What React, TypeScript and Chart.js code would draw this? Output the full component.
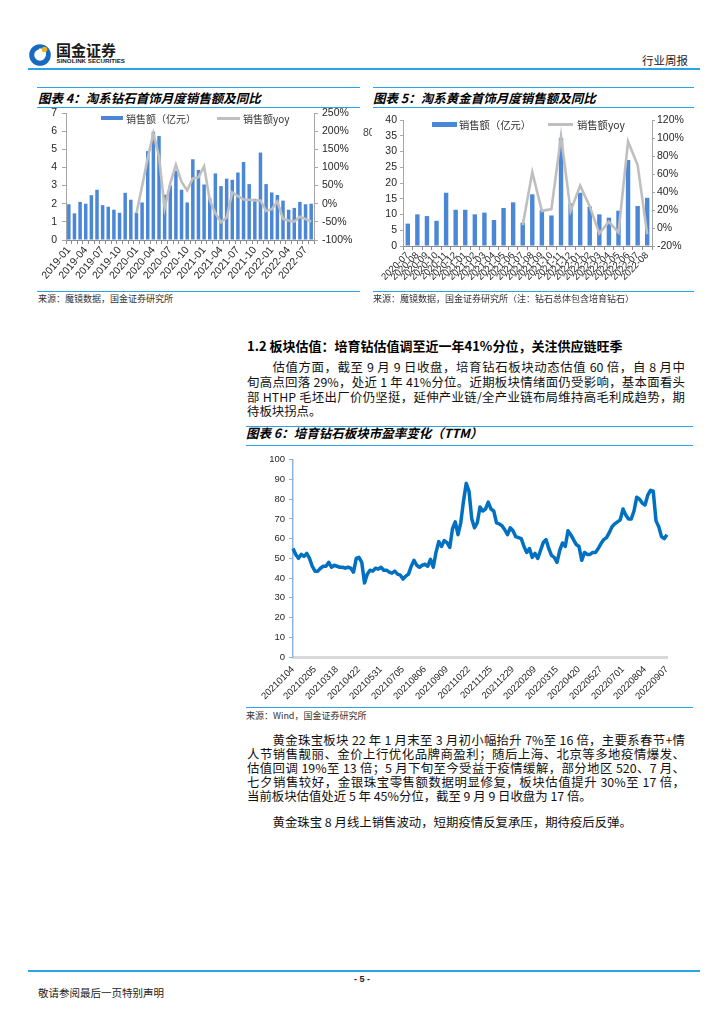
import React, { useEffect, useRef } from 'react';
import { Chart, registerables } from 'chart.js';

Chart.register(...registerables);

// ---------- Data: chart 4 (diamond jewellery, Taobao) ----------
const diamondMonths = [
  '2019-01', '2019-02', '2019-03', '2019-04', '2019-05', '2019-06', '2019-07', '2019-08', '2019-09', '2019-10', '2019-11', '2019-12',
  '2020-01', '2020-02', '2020-03', '2020-04', '2020-05', '2020-06', '2020-07', '2020-08', '2020-09', '2020-10', '2020-11', '2020-12',
  '2021-01', '2021-02', '2021-03', '2021-04', '2021-05', '2021-06', '2021-07', '2021-08', '2021-09', '2021-10', '2021-11', '2021-12',
  '2022-01', '2022-02', '2022-03', '2022-04', '2022-05', '2022-06', '2022-07', '2022-08',
];
const diamondSales = [
  1.97, 1.47, 2.1, 2.0, 2.47, 2.77, 1.92, 1.83, 1.67, 1.5, 2.6, 2.22,
  1.5, 2.07, 4.9, 5.97, 5.73, 2.5, 3.0, 3.82, 2.77, 2.07, 4.45, 3.86,
  3.06, 2.3, 3.67, 2.97, 3.38, 3.32, 3.72, 4.3, 3.08, 2.27, 4.82, 3.08,
  2.62, 2.48, 2.17, 1.67, 1.77, 2.1, 1.97, 2.0,
];
const diamondYoy = [
  null, null, null, null, null, null, null, null, null, null, null, null,
  -26, 48, 126, 194, 130, -12, 56, 107, 60, 37, 70, 73,
  103, 10, -26, -51, -38, 31, 21, 12, 11, 9, 9, -20,
  -15, 6, -42, -46, -49, -36, -42, -49,
];

// ---------- Data: chart 5 (gold jewellery, Taobao) ----------
const goldMonths = [
  '2020-07', '2020-08', '2020-09', '2020-10', '2020-11', '2020-12',
  '2021-01', '2021-02', '2021-03', '2021-04', '2021-05', '2021-06', '2021-07', '2021-08', '2021-09', '2021-10', '2021-11', '2021-12',
  '2022-01', '2022-02', '2022-03', '2022-04', '2022-05', '2022-06', '2022-07', '2022-08',
];
const goldSales = [
  7.1, 10.05, 9.5, 8.0, 16.9, 11.5,
  11.5, 10.05, 10.6, 8.25, 12.06, 13.86, 7.4, 16.4, 11.4, 9.7, 34.3, 13.5,
  16.9, 12.5, 10.05, 9.0, 11.2, 27.3, 12.7, 15.3,
];
const goldYoy = [
  null, null, null, null, null, null,
  null, null, null, null, null, null, 3, 62, 19, 21, 102, 19,
  47, 24, -6, 7, -5, 96, 70, -7,
];

// ---------- Data: chart 6 (lab-grown diamond sector PE TTM) ----------
const peTickDates = [
  '20210104', '20210205', '20210318', '20210422', '20210531', '20210705', '20210806', '20210909', '20211022',
  '20211125', '20211229', '20220209', '20220315', '20220420', '20220527', '20220701', '20220804', '20220907',
];
// sampled every 3 trading days, 8 samples between labelled dates
const peValues = [
  55, 52, 50, 52, 51, 52.5, 50, 46,
  43.5, 43.5, 45, 46, 46, 48, 45.5, 46.5,
  46, 45.5, 45.5, 45, 45.5, 45, 43, 50,
  50.5, 48, 37.5, 42, 44, 43.5, 45, 44.5,
  45.5, 44, 44, 43, 42.5, 43.5, 42, 41.5,
  39.5, 41, 42, 46, 49, 46.5, 45.5, 46.5,
  47, 46, 49.5, 45.5, 53, 58.5, 56, 59,
  58, 55.5, 65, 68.5, 62, 68, 79, 88,
  84, 70, 65.5, 68, 76, 74, 75, 78.5,
  75, 74, 68, 67.5, 66.5, 64.5, 62, 65.5,
  64, 61, 60.5, 60, 56, 53, 55, 50.5,
  52.5, 50, 54, 58, 59.5, 55, 51.5, 50.5,
  48, 54, 57.8, 56, 64, 62, 59.5, 57,
  56, 49, 53, 52, 52, 53, 53, 55,
  57.5, 59.5, 60.5, 63, 66, 67.5, 68.5, 69.5,
  75, 72, 70, 70, 74, 81, 80, 78,
  77, 82, 84.5, 84, 69, 66, 61, 60,
  62,
];
const peLabels = peValues.map((_, i) => (i % 8 === 0 ? peTickDates[i / 8] : ''));

// ---------- Styles ----------
const RULE = '#2aa4e6';
const BAR_BLUE = '#4a87d6';
const YOY_GREY = '#bfbfbf';
const PE_BLUE = '#0070c0';
const TICK = '#262626';
const NUM_FONT = '"Liberation Sans", Arial, sans-serif';
const CJK = '"Noto Sans CJK SC", "Noto Sans", sans-serif';

function diamondConfig(): any {
  return {
    type: 'bar',
    data: {
      labels: diamondMonths,
      datasets: [
        { type: 'line', label: '销售额yoy', data: diamondYoy, yAxisID: 'y1', borderColor: YOY_GREY, borderWidth: 2.6, pointRadius: 0, tension: 0, order: 0 },
        { type: 'bar', label: '销售额（亿元）', data: diamondSales, yAxisID: 'y', backgroundColor: BAR_BLUE, barPercentage: 0.62, categoryPercentage: 1, order: 1 },
      ],
    },
    options: {
      responsive: false,
      animation: false,
      events: [],
      layout: { padding: { top: 13, right: 0, bottom: 0, left: 0 } },
      plugins: { legend: { display: false }, tooltip: { enabled: false }, title: { display: false } },
      scales: {
        x: {
          offset: true,
          grid: { display: true, drawOnChartArea: false, drawTicks: true, tickLength: 4, color: '#8c8c8c', offset: true },
          border: { display: true, color: '#8c8c8c', width: 1 },
          ticks: {
            autoSkip: false, minRotation: 50, maxRotation: 50, padding: 0, color: TICK,
            font: { family: NUM_FONT, size: 10.5 },
            callback: (_v: any, i: number) => (i % 3 === 0 ? diamondMonths[i] : ''),
          },
          afterFit: (s: any) => { s.height = 50; },
        },
        y: {
          position: 'left', min: 0, max: 7,
          grid: { drawOnChartArea: false, tickLength: 4, color: '#a6a6a6' },
          border: { color: '#a6a6a6' },
          ticks: { stepSize: 1, padding: 5, color: TICK, font: { family: NUM_FONT, size: 10.5 } },
          afterFit: (s: any) => { s.width = 36; },
        },
        y1: {
          position: 'right', min: -100, max: 250,
          grid: { drawOnChartArea: false, tickLength: 4, color: '#a6a6a6' },
          border: { color: '#a6a6a6' },
          ticks: { stepSize: 50, padding: 4, color: TICK, font: { family: NUM_FONT, size: 10.5 }, callback: (v: any) => v + '%' },
          afterFit: (s: any) => { s.width = 46; },
        },
      },
    },
  };
}

function goldConfig(): any {
  return {
    type: 'bar',
    data: {
      labels: goldMonths,
      datasets: [
        { type: 'line', label: '销售额yoy', data: goldYoy, yAxisID: 'y1', borderColor: YOY_GREY, borderWidth: 2.6, pointRadius: 0, tension: 0, order: 0 },
        { type: 'bar', label: '销售额（亿元）', data: goldSales, yAxisID: 'y', backgroundColor: BAR_BLUE, barPercentage: 0.46, categoryPercentage: 1, order: 1 },
      ],
    },
    options: {
      responsive: false,
      animation: false,
      events: [],
      layout: { padding: { top: 15, right: 0, bottom: 0, left: 0 } },
      plugins: { legend: { display: false }, tooltip: { enabled: false }, title: { display: false } },
      scales: {
        x: {
          offset: true,
          grid: { display: true, drawOnChartArea: false, drawTicks: true, tickLength: 4, color: '#8c8c8c', offset: true },
          border: { display: true, color: '#8c8c8c', width: 1 },
          ticks: {
            autoSkip: false, minRotation: 45, maxRotation: 45, padding: 0, color: TICK,
            font: { family: NUM_FONT, size: 9.5 },
          },
          afterFit: (s: any) => { s.height = 44; },
        },
        y: {
          position: 'left', min: 0, max: 40,
          grid: { drawOnChartArea: false, tickLength: 3, color: '#a6a6a6' },
          border: { color: '#a6a6a6' },
          ticks: { stepSize: 5, padding: 3, color: TICK, font: { family: NUM_FONT, size: 10.5 } },
          afterFit: (s: any) => { s.width = 35; },
        },
        y1: {
          position: 'right', min: -20, max: 120,
          grid: { drawOnChartArea: false, tickLength: 3, color: '#a6a6a6' },
          border: { color: '#a6a6a6' },
          ticks: { stepSize: 20, padding: 2, color: TICK, font: { family: NUM_FONT, size: 10.5 }, callback: (v: any) => v + '%' },
          afterFit: (s: any) => { s.width = 46; },
        },
      },
    },
  };
}

function peConfig(): any {
  return {
    type: 'line',
    data: {
      labels: peLabels,
      datasets: [
        { label: 'PE(TTM)', data: peValues, borderColor: PE_BLUE, borderWidth: 3.5, pointRadius: 0, tension: 0, borderJoinStyle: 'round', fill: false },
      ],
    },
    options: {
      responsive: false,
      animation: false,
      events: [],
      layout: { padding: { top: 9, right: 19, bottom: 0, left: 0 } },
      plugins: { legend: { display: false }, tooltip: { enabled: false }, title: { display: false } },
      scales: {
        x: {
          offset: false,
          grid: { display: false, drawTicks: false },
          border: { display: true, color: '#d9d9d9', width: 3 },
          ticks: {
            autoSkip: false, minRotation: 45, maxRotation: 45, padding: 7, color: TICK,
            font: { family: NUM_FONT, size: 9.5 },
            callback: (_v: any, i: number) => peLabels[i],
          },
          afterFit: (s: any) => { s.height = 43; },
        },
        y: {
          min: 0, max: 100,
          grid: { drawOnChartArea: false, tickLength: 4, color: '#8db3de' },
          border: { color: '#8db3de', width: 1.5 },
          ticks: { stepSize: 10, padding: 4, color: TICK, font: { family: NUM_FONT, size: 9.5 } },
          afterFit: (s: any) => { s.width = 47; },
        },
      },
    },
  };
}

function ChartCanvas({ left, top, width, height, make }: any) {
  const ref = useRef<HTMLCanvasElement | null>(null);
  useEffect(() => {
    const c = new Chart(ref.current as HTMLCanvasElement, make());
    return () => c.destroy();
  }, []);
  return (
    <canvas
      ref={ref}
      width={width}
      height={height}
      style={{ position: 'absolute', left, top, width, height }}
    />
  );
}

function Rule({ x1, x2, y, h = 1.2, color = RULE }: any) {
  return <div style={{ position: 'absolute', left: x1, top: y - h / 2, width: x2 - x1, height: h, background: color }} />;
}

function Txt({ x, y, size, children, style }: any) {
  return (
    <div
      style={{
        position: 'absolute', left: x, top: y - size * 0.65, fontSize: size, lineHeight: size * 1.3 + 'px',
        whiteSpace: 'nowrap', fontFamily: CJK, color: '#111', ...style,
      }}
    >
      {children}
    </div>
  );
}

function JLine({ x, y, w, size, last, children }: any) {
  return (
    <div
      style={{
        position: 'absolute', left: x, top: y - size * 0.65, width: w, fontSize: size, lineHeight: size * 1.3 + 'px',
        fontFamily: CJK, color: '#111', textAlign: last ? 'left' : 'justify', textAlignLast: last ? 'left' : 'justify',
        whiteSpace: last ? 'nowrap' : 'normal',
      } as any}
    >
      {children}
    </div>
  );
}

function Legend({ barX, barY, barW, barH, t1x, lineX, lineW, t2x, y, size }: any) {
  return (
    <>
      <div style={{ position: 'absolute', left: barX, top: barY, width: barW, height: barH, background: BAR_BLUE }} />
      <Txt x={t1x} y={y} size={size} style={{ color: '#333' }}>销售额（亿元）</Txt>
      <div style={{ position: 'absolute', left: lineX, top: y - 1.25, width: lineW, height: 2.5, background: YOY_GREY }} />
      <Txt x={t2x} y={y} size={size} style={{ color: '#333' }}>销售额yoy</Txt>
    </>
  );
}

const titleStyle = { fontWeight: 700, fontStyle: 'italic', color: '#000' };
const srcStyle = { color: '#333' };

export default function App() {
  const bodyX = 247;
  const bodyW = 438;
  const bs = 12.4;
  return (
    <div style={{ position: 'absolute', left: 0, top: 0, width: 724, height: 1024, background: '#fff', overflow: 'hidden' }}>
      {/* Header */}
      <svg style={{ position: 'absolute', left: 29, top: 42 }} width="23" height="24" viewBox="0 0 23 24">
        <circle cx="11" cy="13" r="8.3" fill="none" stroke="#1769c2" strokeWidth="5" />
        <rect x="10" y="6.5" width="7" height="7" fill="#ffffff" />
        <circle cx="15.5" cy="7.5" r="2.8" fill="#f2b01e" />
      </svg>
      <Txt x={56} y={50} size={15} style={{ fontWeight: 700, color: '#1a1a1a', letterSpacing: 0 }}>国金证券</Txt>
      <Txt x={56.5} y={61} size={6.2} style={{ fontFamily: NUM_FONT, fontWeight: 700, color: '#1a1a1a' }}>SINOLINK SECURITIES</Txt>
      <Txt x={642} y={60} size={11.5} style={{ color: '#222' }}>行业周报</Txt>
      <Rule x1={28} x2={700} y={69} h={1.6} />

      {/* Chart 4 */}
      <Rule x1={37} x2={360} y={87.7} h={1} />
      <Txt x={38} y={97.7} size={12.5} style={titleStyle}>图表 4：淘系钻石首饰月度销售额及同比</Txt>
      <Rule x1={37} x2={360} y={107.7} h={1.5} />
      <ChartCanvas left={30} top={100} width={330} height={190} make={diamondConfig} />
      <Legend barX={100.5} barY={116} barW={22} barH={4.2} t1x={126} lineX={217} lineW={23} t2x={243} y={118.5} size={10} />
      <Rule x1={37} x2={360} y={291.7} h={1.5} />
      <Txt x={38} y={298.5} size={9} style={srcStyle}>来源：魔镜数据，国金证券研究所</Txt>

      {/* Chart 5 */}
      <Rule x1={373} x2={694} y={87.7} h={1} />
      <Txt x={373} y={97.7} size={12.5} style={titleStyle}>图表 5：淘系黄金首饰月度销售额及同比</Txt>
      <Rule x1={373} x2={694} y={107.7} h={1.5} />
      <div style={{ position: 'absolute', left: 363, top: 125, width: 9, height: 14, overflow: 'hidden', fontFamily: NUM_FONT, fontSize: 10.5, lineHeight: '14px', color: '#444' }}>80</div>
      <ChartCanvas left={368} top={105} width={330} height={185} make={goldConfig} />
      <Legend barX={432} barY={121.7} barW={24.5} barH={5} t1x={459} lineX={548} lineW={25} t2x={577} y={124.3} size={10.3} />
      <Rule x1={373} x2={694} y={291.7} h={1.5} />
      <Txt x={373} y={298.5} size={9} style={srcStyle}>来源：魔镜数据，国金证券研究所（注：钻石总体包含培育钻石）</Txt>

      {/* Section 1.2 */}
      <Txt x={bodyX} y={346.7} size={13} style={{ fontWeight: 700, color: '#000' }}>1.2 板块估值：培育钻估值调至近一年41%分位，关注供应链旺季</Txt>
      <JLine x={272.5} y={366.7} w={bodyW - 25.5} size={bs}>估值方面，截至 9 月 9 日收盘，培育钻石板块动态估值 60 倍，自 8 月中</JLine>
      <JLine x={bodyX} y={381.7} w={bodyW} size={bs}>旬高点回落 29%，处近 1 年 41%分位。近期板块情绪面仍受影响，基本面看头</JLine>
      <JLine x={bodyX} y={396.7} w={bodyW} size={bs}>部 HTHP 毛坯出厂价仍坚挺，延伸产业链/全产业链布局维持高毛利成趋势，期</JLine>
      <JLine x={bodyX} y={411.5} w={bodyW} size={bs} last>待板块拐点。</JLine>

      {/* Chart 6 */}
      <Rule x1={246} x2={693} y={426.5} h={1.2} />
      <Txt x={246} y={433.5} size={12.5} style={titleStyle}>图表 6：培育钻石板块市盈率变化（TTM）</Txt>
      <Rule x1={246} x2={693} y={445.7} h={1.5} />
      <ChartCanvas left={246} top={450} width={440} height={250} make={peConfig} />
      <Rule x1={246} x2={693} y={707.7} h={1.5} />
      <Txt x={246} y={716} size={9} style={srcStyle}>来源：Wind，国金证券研究所</Txt>

      {/* Paragraph 2 */}
      <JLine x={272.5} y={740} w={bodyW - 25.5} size={bs}>黄金珠宝板块 22 年 1 月末至 3 月初小幅抬升 7%至 16 倍，主要系春节+情</JLine>
      <JLine x={bodyX} y={754} w={bodyW} size={bs}>人节销售靓丽、金价上行优化品牌商盈利；随后上海、北京等多地疫情爆发、</JLine>
      <JLine x={bodyX} y={768} w={bodyW} size={bs}>估值回调 19%至 13 倍；5 月下旬至今受益于疫情缓解，部分地区 520、7 月、</JLine>
      <JLine x={bodyX} y={782} w={bodyW} size={bs}>七夕销售较好，金银珠宝零售额数据明显修复，板块估值提升 30%至 17 倍，</JLine>
      <JLine x={bodyX} y={796} w={bodyW} size={bs} last>当前板块估值处近 5 年 45%分位，截至 9 月 9 日收盘为 17 倍。</JLine>
      <JLine x={272.5} y={822} w={bodyW - 25.5} size={bs} last>黄金珠宝 8 月线上销售波动，短期疫情反复承压，期待疫后反弹。</JLine>

      {/* Footer */}
      <Rule x1={28} x2={700} y={971} h={1.6} />
      <Txt x={0} y={980} size={9} style={{ width: 724, textAlign: 'center', fontFamily: NUM_FONT, fontWeight: 700, color: '#222' }}>- 5 -</Txt>
      <Txt x={38} y={993} size={10.5} style={{ color: '#222' }}>敬请参阅最后一页特别声明</Txt>
    </div>
  );
}
